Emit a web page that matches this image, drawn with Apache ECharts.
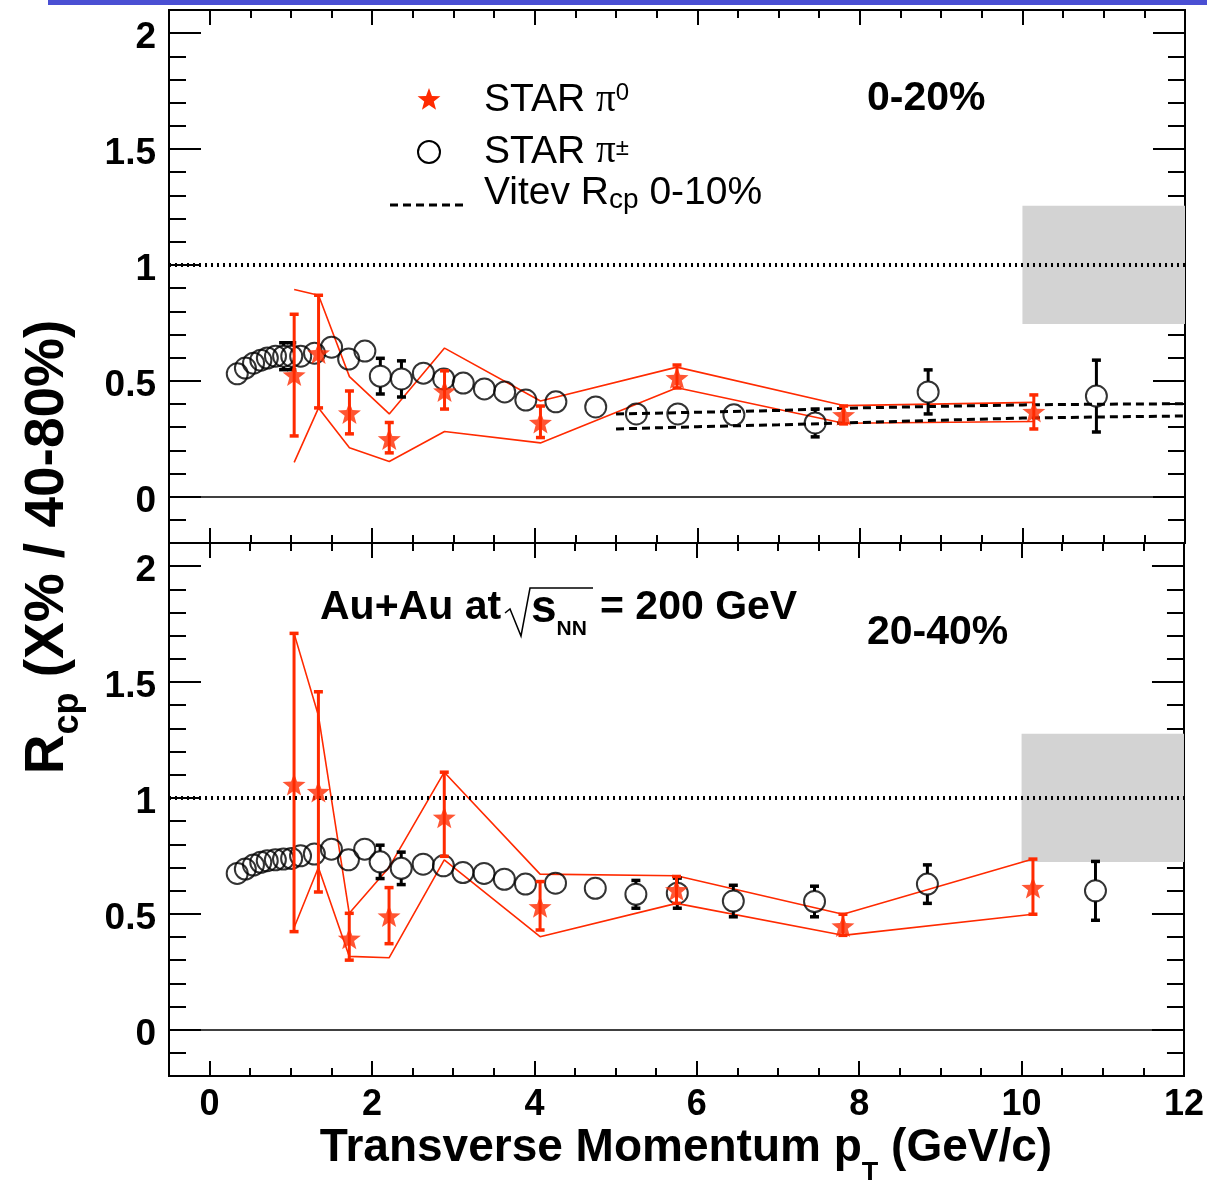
<!DOCTYPE html>
<html><head><meta charset="utf-8">
<script src="https://cdn.jsdelivr.net/npm/echarts@6/dist/echarts.min.js"></script>
<style>html,body{margin:0;padding:0;background:#fff}#c{width:1207px;height:1180px}</style>
</head><body><div id="c"></div>
<script>
// ---------------- data ----------------
const pipmX = [0.34,0.44,0.54,0.63,0.71,0.81,0.91,1.01,1.12,1.29,1.50,1.71,1.91,2.10,2.36,2.63,2.88,3.12,3.38,3.63,3.89,4.26,4.75,5.25,5.76,6.45,7.45,8.84,10.91];
const pipmTop = [0.53,0.555,0.576,0.589,0.598,0.606,0.606,0.606,0.606,0.619,0.645,0.594,0.628,0.52,0.508,0.533,0.508,0.49,0.465,0.452,0.417,0.409,0.387,0.357,0.357,0.353,0.318,0.452,0.434];
const pipmTopErr = [0,0,0,0,0,0,0.058,0.058,0,0,0,0,0,0.077,0.078,0,0,0,0,0,0,0,0,0,0,0,0.06,0.095,0.155];
const pipmBot = [0.674,0.693,0.71,0.722,0.729,0.733,0.736,0.739,0.75,0.758,0.779,0.733,0.779,0.724,0.696,0.714,0.707,0.678,0.674,0.649,0.628,0.632,0.61,0.584,0.589,0.555,0.553,0.628,0.599];
const pipmBotErr = [0,0,0,0,0,0,0,0,0,0,0,0,0,0.072,0.07,0,0,0,0,0,0,0,0,0.06,0.065,0.068,0.066,0.083,0.127];

const pi0X = [1.04,1.34,1.72,2.21,2.89,4.07,5.75,7.80,10.14];
const pi0Top = [0.525,0.62,0.361,0.249,0.456,0.32,0.513,0.353,0.367];
const pi0TopLo = [0.262,0.383,0.271,0.189,0.378,0.255,0.469,0.314,0.292];
const pi0TopHi = [0.787,0.869,0.456,0.32,0.543,0.391,0.568,0.391,0.439];
const bandTopUp = [0.894,0.869,0.518,0.357,0.641,0.413,0.559,0.393,0.407];
const bandTopLo = [0.148,0.383,0.211,0.152,0.281,0.232,0.47,0.317,0.324];

const pi0Bot = [1.058,1.027,0.394,0.49,0.916,0.53,0.603,0.447,0.613];
const pi0BotLo = [0.423,0.594,0.3,0.371,0.748,0.43,0.545,0.407,0.498];
const pi0BotHi = [1.71,1.458,0.502,0.613,1.111,0.639,0.661,0.498,0.736];
const bandBotUp = [1.71,1.356,0.502,0.70,1.111,0.671,0.664,0.498,0.736];
const bandBotLo = [0.44,0.70,0.316,0.31,0.733,0.401,0.545,0.407,0.498];

const vitevX = [5.0,6,7,8,9,10,11,12];
const vitevUp = [0.357,0.364,0.372,0.383,0.39,0.396,0.399,0.401];
const vitevLo = [0.292,0.302,0.310,0.320,0.330,0.339,0.344,0.348];

const normBoxX = [10, 12];
const normBoxTop = [0.745, 1.255];
const normBoxBot = [0.723, 1.277];

const xMajorTicks = [0,2,4,6,8,10,12];
const xMinorTicks = [0.5,1,1.5,2.5,3,3.5,4.5,5,5.5,6.5,7,7.5,8.5,9,9.5,10.5,11,11.5];
const yMajorTicks = [0,0.5,1,1.5,2];
const yMinorTicks = [-0.1,0.1,0.2,0.3,0.4,0.6,0.7,0.8,0.9,1.1,1.2,1.3,1.4,1.6,1.7,1.8,1.9];
const xLabelValues = [0,2,4,6,8,10,12];
const yLabelValues = [0,0.5,1,1.5,2];

// ---------------- style ----------------
const RED = '#ff2a00';
const FONT = 'Liberation Sans';

function starPoints(cx, cy, R) {
  const pts = [];
  for (let i = 0; i < 10; i++) {
    const r = (i % 2) ? R * 0.42 : R;
    const a = -Math.PI / 2 + i * Math.PI / 5;
    pts.push([cx + r * Math.cos(a), cy + r * Math.sin(a)]);
  }
  return pts;
}
const STAR = 'path://' + starPoints(0, 0, 1).map((p, i) => (i ? 'L' : 'M') + p[0].toFixed(4) + ' ' + p[1].toFixed(4)).join('') + 'Z';

function xAx(grid, pos, ticks, len, labels) {
  return {
    type: 'value', gridIndex: grid, position: pos, min: -0.5, max: 12,
    axisLine: {show: true, onZero: false, lineStyle: {color: '#000', width: 2}},
    axisTick: {show: true, inside: true, length: len, customValues: ticks, lineStyle: {color: '#000', width: 2}},
    axisLabel: labels ? {show: true, customValues: labels, margin: 11, fontSize: 36, fontWeight: 'bold', fontFamily: FONT, color: '#000'} : {show: false},
    splitLine: {show: false}
  };
}
function yAx(grid, pos, ticks, len, labels) {
  return {
    type: 'value', gridIndex: grid, position: pos, min: -0.2, max: 2.1,
    axisLine: {show: true, onZero: false, lineStyle: {color: '#000', width: 2}},
    axisTick: {show: true, inside: true, length: len, customValues: ticks, lineStyle: {color: '#000', width: 2}},
    axisLabel: labels ? {show: true, customValues: labels, margin: 13,
      formatter: (v) => '{v|' + v + '}',
      rich: {v: {fontSize: 37, lineHeight: 37, fontWeight: 'bold', fontFamily: FONT, color: '#000', padding: [10, 0, 0, 0]}},
      fontSize: 37, fontWeight: 'bold', fontFamily: FONT, color: '#000'} : {show: false},
    splitLine: {show: false}
  };
}

const xAxes = [], yAxes = [];
for (let g = 0; g < 2; g++) {
  xAxes.push(xAx(g, 'bottom', xMajorTicks, 15, g === 1 ? xLabelValues : null));
  xAxes.push(xAx(g, 'bottom', xMinorTicks, 8, null));
  xAxes.push(xAx(g, 'top', xMajorTicks, 15, null));
  xAxes.push(xAx(g, 'top', xMinorTicks, 8, null));
  yAxes.push(yAx(g, 'left', yMajorTicks, 32, yLabelValues));
  yAxes.push(yAx(g, 'left', yMinorTicks, 17, null));
  yAxes.push(yAx(g, 'right', yMajorTicks, 32, null));
  yAxes.push(yAx(g, 'right', yMinorTicks, 17, null));
}

function errRender(color, gap) {
  return function (params, api) {
    const x = api.value(0);
    const pl = api.coord([x, api.value(1)]);
    const ph = api.coord([x, api.value(2)]);
    const pc = api.coord([x, api.value(3)]);
    const st = {stroke: color, lineWidth: 3, fill: null};
    const cst = {stroke: color, lineWidth: 3.5, fill: null};
    const ch = [];
    const seg = (y1, y2) => { if (y2 - y1 > 0.5) ch.push({type: 'line', shape: {x1: pc[0], y1: y1, x2: pc[0], y2: y2}, style: st}); };
    if (gap > 0) { seg(ph[1], pc[1] - gap); seg(pc[1] + gap, pl[1]); } else seg(ph[1], pl[1]);
    const cw = 4.5;
    ch.push({type: 'line', shape: {x1: pc[0] - cw, y1: ph[1], x2: pc[0] + cw, y2: ph[1]}, style: cst});
    ch.push({type: 'line', shape: {x1: pc[0] - cw, y1: pl[1], x2: pc[0] + cw, y2: pl[1]}, style: cst});
    return {type: 'group', children: ch};
  };
}
function boxRender(params, api) {
  const a = api.coord([api.value(0), api.value(3)]);
  const b = api.coord([api.value(1), api.value(2)]);
  return {type: 'rect', shape: {x: a[0], y: a[1], width: b[0] - a[0], height: b[1] - a[1]}, style: {fill: '#d3d3d3'}};
}
const zip = (xs, ys) => xs.map((x, i) => [x, ys[i]]);

function panel(g, pipm, pipmErr, pi0, lo, hi, bUp, bLo, box, withVitev) {
  const xi = g * 4, yi = g * 4;
  const s = [];
  s.push({type: 'custom', xAxisIndex: xi, yAxisIndex: yi, z: 1, silent: true,
    data: [[normBoxX[0], normBoxX[1], box[0], box[1]]], renderItem: boxRender});
  s.push({type: 'line', xAxisIndex: xi, yAxisIndex: yi, z: 2, silent: true, data: zip(pi0X, bUp),
    showSymbol: false, symbol: 'none', lineStyle: {color: RED, width: 1.6},
    markLine: {silent: true, symbol: ['none', 'none'], label: {show: false}, animation: false,
      data: [{yAxis: 0, lineStyle: {color: '#000', width: 1.5, type: 'solid'}},
             {yAxis: 1, lineStyle: {color: '#000', width: 4, type: [2, 4]}}]}});
  s.push({type: 'line', xAxisIndex: xi, yAxisIndex: yi, z: 2, silent: true, data: zip(pi0X, bLo),
    showSymbol: false, symbol: 'none', lineStyle: {color: RED, width: 1.6}});
  if (withVitev) {
    [vitevUp, vitevLo].forEach(v => s.push({type: 'line', xAxisIndex: xi, yAxisIndex: yi, z: 2, silent: true,
      data: zip(vitevX, v), showSymbol: false, symbol: 'none', lineStyle: {color: '#000', width: 3, type: [8, 5]}}));
  }
  s.push({type: 'scatter', xAxisIndex: xi, yAxisIndex: yi, z: 3, silent: true, data: zip(pipmX, pipm),
    symbol: 'circle', symbolSize: 21, itemStyle: {color: 'rgba(0,0,0,0)', borderColor: '#000', borderWidth: 2}});
  s.push({type: 'custom', xAxisIndex: xi, yAxisIndex: yi, z: 3, silent: true,
    data: pipmX.map((x, i) => [x, pipm[i] - pipmErr[i], pipm[i] + pipmErr[i], pipm[i]]).filter(d => d[2] > d[1]),
    renderItem: errRender('#000', 10.5)});
  s.push({type: 'custom', xAxisIndex: xi, yAxisIndex: yi, z: 4, silent: true,
    data: pi0X.map((x, i) => [x, lo[i], hi[i], pi0[i]]), renderItem: errRender(RED, 0)});
  s.push({type: 'scatter', xAxisIndex: xi, yAxisIndex: yi, z: 5, silent: true, data: zip(pi0X, pi0),
    symbol: STAR, symbolSize: 23, symbolKeepAspect: true, itemStyle: {color: RED}});
  return s;
}

const series = [].concat(
  panel(0, pipmTop, pipmTopErr, pi0Top, pi0TopLo, pi0TopHi, bandTopUp, bandTopLo, normBoxTop, true),
  panel(1, pipmBot, pipmBotErr, pi0Bot, pi0BotLo, pi0BotHi, bandBotUp, bandBotLo, normBoxBot, false)
);

const T = (o) => Object.assign({fontFamily: FONT, fill: '#000'}, o);
const graphic = [
  {type: 'rect', shape: {x: 48, y: 0, width: 1159, height: 5}, style: {fill: '#4a4fd3'}},
  // legend
  {type: 'polygon', shape: {points: starPoints(429, 100, 12)}, style: {fill: RED}},
  {type: 'circle', shape: {cx: 429, cy: 152, r: 11}, style: {fill: 'none', stroke: '#000', lineWidth: 2}},
  {type: 'line', shape: {x1: 390, y1: 205, x2: 466, y2: 205}, style: {stroke: '#000', lineWidth: 3, lineDash: [8, 5]}},
  {type: 'text', x: 484, y: 101, style: {text: '{a|STAR }{p|π}{s|0}', align: 'left', verticalAlign: 'middle', rich: {
    a: T({fontSize: 39, lineHeight: 40, verticalAlign: 'top'}),
    p: T({fontSize: 39, lineHeight: 40, verticalAlign: 'top', fontFamily: 'Liberation Serif'}),
    s: T({fontSize: 24, lineHeight: 24, verticalAlign: 'top'})}}},
  {type: 'text', x: 484, y: 152.5, style: {text: '{a|STAR }{p|π}{s|±}', align: 'left', verticalAlign: 'middle', rich: {
    a: T({fontSize: 39, lineHeight: 40, verticalAlign: 'top'}),
    p: T({fontSize: 39, lineHeight: 40, verticalAlign: 'top', fontFamily: 'Liberation Serif'}),
    s: T({fontSize: 24, lineHeight: 24, verticalAlign: 'top', padding: [4, 0, 0, 0]})}}},
  {type: 'text', x: 484, y: 193.5, style: {text: '{a|Vitev R}{b|cp}{a| 0-10%}', align: 'left', verticalAlign: 'middle', rich: {
    a: T({fontSize: 39, lineHeight: 40, verticalAlign: 'top'}),
    b: T({fontSize: 28, lineHeight: 28, verticalAlign: 'top', padding: [13, 0, 0, 0]})}}},
  // panel labels
  {type: 'text', x: 867, y: 98.5, style: T({text: '0-20%', fontSize: 41, fontWeight: 'bold', align: 'left', verticalAlign: 'middle'})},
  {type: 'text', x: 867, y: 633, style: T({text: '20-40%', fontSize: 41, fontWeight: 'bold', align: 'left', verticalAlign: 'middle'})},
  {type: 'text', x: 320, y: 608, style: T({text: 'Au+Au at', fontSize: 41, fontWeight: 'bold', align: 'left', verticalAlign: 'middle'})},
  {type: 'polyline', shape: {points: [[505, 613], [510, 609], [521, 636], [530, 588], [593, 588]]}, style: {stroke: '#000', lineWidth: 1.5, fill: null}},
  {type: 'text', x: 531, y: 609.75, style: {text: '{s|s}{n|NN}', align: 'left', verticalAlign: 'middle', rich: {
    s: T({fontSize: 46, lineHeight: 46, fontWeight: 'bold', verticalAlign: 'top'}),
    n: T({fontSize: 21, lineHeight: 21, fontWeight: 'bold', verticalAlign: 'top', padding: [31.5, 0, 0, 0]})}}},
  {type: 'text', x: 600, y: 608, style: T({text: '= 200 GeV', fontSize: 41, fontWeight: 'bold', align: 'left', verticalAlign: 'middle'})},
  // axis titles
  {type: 'text', x: 686, y: 1148, style: {text: '{a|Transverse Momentum p}{b|T}{a| (GeV/c)}', align: 'center', verticalAlign: 'middle', rich: {
    a: T({fontSize: 46, lineHeight: 46, fontWeight: 'bold', verticalAlign: 'top'}),
    b: T({fontSize: 27, lineHeight: 27, fontWeight: 'bold', verticalAlign: 'top', padding: [35, 0, 0, 0]})}}},
  {type: 'text', x: 46.5, y: 547, rotation: Math.PI / 2, style: {text: '{a|R}{b|cp}{a| (X% / 40-80%)}', align: 'center', verticalAlign: 'middle', rich: {
    a: T({fontSize: 55, lineHeight: 52, fontWeight: 'bold', verticalAlign: 'top'}),
    b: T({fontSize: 36, lineHeight: 34, fontWeight: 'bold', verticalAlign: 'top', padding: [30, 0, 0, 0]})}}}
];

const chart = echarts.init(document.getElementById('c'), null, {renderer: 'canvas'});
chart.setOption({
  backgroundColor: '#fff',
  animation: false,
  grid: [{left: 169, top: 10, width: 1016, height: 533}, {left: 169, top: 543, width: 1016, height: 533}],
  xAxis: xAxes,
  yAxis: yAxes,
  series: series,
  graphic: graphic
});
</script></body></html>
